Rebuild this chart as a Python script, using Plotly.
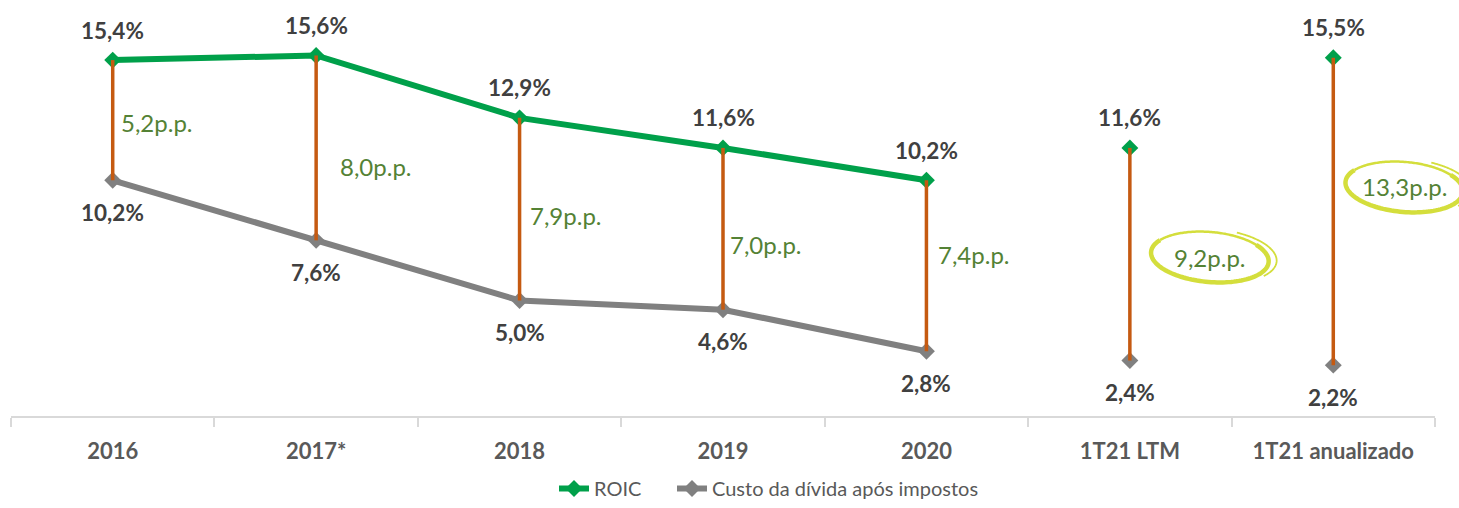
import numpy as np
import plotly.graph_objects as go

categories = ["2016", "2017*", "2018", "2019", "2020", "1T21 LTM", "1T21 anualizado"]
roic = [15.4, 15.6, 12.9, 11.6, 10.2, 11.6, 15.5]
custo = [10.2, 7.6, 5.0, 4.6, 2.8, 2.4, 2.2]
n_line = 5  # first five periods are joined by lines

GREEN = "#00A04A"
GREY = "#808080"
ORANGE = "#C55A11"
SPREAD = "#548235"
LABEL = "#404040"
HALO = "#D4DE3C"
FONT = "Lato"

# label placement (layout only)
spread_label_y = [12.68, 10.78, 8.66, 7.40, 6.97, 6.88, 9.91]
spread_label_dx = [44, 60, 46, 43, 48, 80, 71]
highlight = [5, 6]

Y_MAX = 18.0
PLOT_H = 416
L, R = 11, 24
W, H = 1459, 508
PLOT_W = W - L - R
CAT_W = PLOT_W / len(categories)

fig = go.Figure()

fig.add_trace(go.Scatter(
    x=categories[:n_line], y=roic[:n_line], mode="lines+markers", name="ROIC", legend="legend",
    line=dict(color=GREEN, width=6), marker=dict(symbol="diamond", size=13, color=GREEN)))
fig.add_trace(go.Scatter(
    x=categories[:n_line], y=custo[:n_line], mode="lines+markers", name="Custo da dívida após impostos",
    legend="legend2",
    line=dict(color=GREY, width=6), marker=dict(symbol="diamond", size=13, color=GREY)))
fig.add_trace(go.Scatter(
    x=categories[n_line:], y=roic[n_line:], mode="markers", showlegend=False,
    marker=dict(symbol="diamond", size=13, color=GREEN)))
fig.add_trace(go.Scatter(
    x=categories[n_line:], y=custo[n_line:], mode="markers", showlegend=False,
    marker=dict(symbol="diamond", size=13, color=GREY)))

hx, hy = [], []
for c, r, k in zip(categories, roic, custo):
    hx += [c, c, None]
    hy += [k, r, None]
fig.add_trace(go.Scatter(x=hx, y=hy, mode="lines", showlegend=False,
                         line=dict(color=ORANGE, width=3.5), hoverinfo="skip"))

def fmt(v, suffix):
    return f"{v:.1f}".replace(".", ",") + suffix

annotations = []
for i, (r, k) in enumerate(zip(roic, custo)):
    annotations.append(dict(x=i, y=r, xref="x", yref="y", text=fmt(r, "%"), showarrow=False,
                            yshift=30, font=dict(family=FONT, size=22.5, color=LABEL, weight="bold")))
    annotations.append(dict(x=i, y=k, xref="x", yref="y", text=fmt(k, "%"), showarrow=False,
                            yshift=-32, font=dict(family=FONT, size=22.5, color=LABEL, weight="bold")))
    annotations.append(dict(x=i, y=spread_label_y[i], xref="x", yref="y",
                            text=fmt(round(r - k, 1), "p.p."), showarrow=False,
                            xshift=spread_label_dx[i],
                            font=dict(family=FONT, size=24, color=SPREAD)))

shapes = []
for i in highlight:
    cx = L + (i + 0.5) * CAT_W + spread_label_dx[i]
    cy = PLOT_H - spread_label_y[i] / Y_MAX * PLOT_H
    ax, ay = 59, 25
    rot = np.deg2rad(-5)

    def arc(t0, t1, sx, sy, dxp=0, dyp=0):
        t = np.linspace(np.deg2rad(t0), np.deg2rad(t1), 90)
        ex = sx * np.cos(t)
        ey = sy * np.sin(t)
        px = cx + dxp + ex * np.cos(rot) - ey * np.sin(rot)
        py = cy + dyp - (ex * np.sin(rot) + ey * np.cos(rot))
        xs = (px - L) / PLOT_W
        ys = (PLOT_H - py) / PLOT_H
        return "M " + " L ".join(f"{a:.5f},{b:.5f}" for a, b in zip(xs, ys))

    shapes.append(dict(type="path", xref="paper", yref="paper", path=arc(150, 400, ax, ay),
                       line=dict(color=HALO, width=4.5)))
    shapes.append(dict(type="path", xref="paper", yref="paper", path=arc(30, 150, ax, ay),
                       line=dict(color=HALO, width=2.5)))
    shapes.append(dict(type="path", xref="paper", yref="paper", path=arc(-35, 70, ax + 5, ay + 2, 3, -1),
                       line=dict(color=HALO, width=1.8)))

legend_common = dict(orientation="h", xanchor="left", xref="paper",
                     yref="container", y=-0.018, yanchor="bottom",
                     font=dict(family=FONT, size=20, color="#595959"), itemwidth=30,
                     bgcolor="rgba(0,0,0,0)")

fig.update_layout(
    width=W, height=H,
    margin=dict(l=L, r=R, t=0, b=H - PLOT_H),
    plot_bgcolor="white", paper_bgcolor="white",
    font=dict(family=FONT, color="#595959"),
    annotations=annotations,
    shapes=shapes,
    showlegend=True,
    legend=dict(x=(554 - L) / PLOT_W, **legend_common),
    legend2=dict(x=(672 - L) / PLOT_W, **legend_common),
    hovermode=False,
)
fig.update_xaxes(type="category", range=[-0.5, len(categories) - 0.5],
                 showline=True, linecolor="#D9D9D9", linewidth=1.5,
                 ticks="outside", tickson="boundaries", ticklen=9, tickcolor="#D9D9D9", tickwidth=1.5,
                 showgrid=False, zeroline=False,
                 tickfont=dict(family=FONT, size=22, color="#595959", weight="bold"),
                 ticklabelstandoff=15)
fig.update_yaxes(visible=False, range=[0, Y_MAX])

fig.write_html("out.html")
